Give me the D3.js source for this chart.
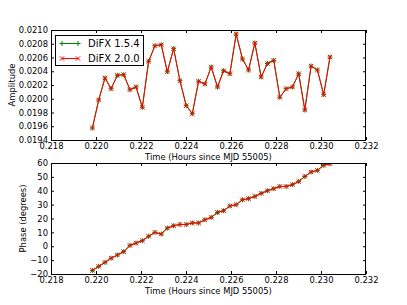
<!DOCTYPE html>
<html>
<head>
<meta charset="utf-8">
<script src="https://cdnjs.cloudflare.com/ajax/libs/d3/7.8.5/d3.min.js"></script>
<style>
  body { margin: 0; background: #fff; }
  svg { display: block; font-family: "DejaVu Sans", sans-serif; }
</style>
</head>
<body>
<div id="chart"></div>
<script>
// time in hours since MJD 55005
var times = [0.21984, 0.22012, 0.22040, 0.22067, 0.22095, 0.22123, 0.22151, 0.22178,
  0.22206, 0.22234, 0.22262, 0.22290, 0.22317, 0.22345, 0.22373, 0.22401, 0.22428,
  0.22456, 0.22484, 0.22512, 0.22540, 0.22567, 0.22595, 0.22623, 0.22651, 0.22678,
  0.22706, 0.22734, 0.22762, 0.22790, 0.22817, 0.22845, 0.22873, 0.22901, 0.22928,
  0.22956, 0.22984, 0.23012, 0.23040];

var ampOld = [0.019575, 0.019982, 0.020302, 0.020146, 0.020341, 0.020350, 0.020132, 0.020171,
  0.019876, 0.020545, 0.020772, 0.020786, 0.020393, 0.020728, 0.020263, 0.019899, 0.019783,
  0.020254, 0.020215, 0.020462, 0.020171, 0.020408, 0.020364, 0.020942, 0.020578, 0.020418,
  0.020811, 0.020316, 0.020513, 0.020559, 0.020021, 0.020146, 0.020171, 0.020364, 0.019836,
  0.020476, 0.020418, 0.020059, 0.020607];
var ampNew = ampOld.slice(); // both versions overlap on the plot

var phaseOld = [-17.4, -14.5, -11.6, -8.6, -6.3, -3.9, 0.6, 2.3, 4.0, 7.2, 10.0, 8.8,
  13.1, 14.8, 15.7, 15.7, 16.8, 16.8, 19.1, 20.8, 24.4, 25.6, 29.0, 30.0, 33.5, 34.3,
  35.9, 38.1, 40.0, 41.5, 43.1, 43.1, 44.4, 46.7, 50.3, 53.5, 54.7, 58.3, 59.5];
var phaseNew = phaseOld.slice();

var xTicks = [0.218, 0.220, 0.222, 0.224, 0.226, 0.228, 0.230, 0.232];
var ampTicks = [0.0194, 0.0196, 0.0198, 0.0200, 0.0202, 0.0204, 0.0206, 0.0208, 0.0210];
var phaseTicks = [-20, -10, 0, 10, 20, 30, 40, 50, 60];
var seriesNames = ["DiFX 1.5.4", "DiFX 2.0.0"];
var seriesColors = ["#008000", "#ff0000"];

var width = 407, height = 305;
var left = 51, right = 366;
var fs = 8.4;

var svg = d3.select("#chart").append("svg")
  .attr("width", width).attr("height", height);

var x = d3.scaleLinear().domain([0.218, 0.232]).range([left, right]);

function marker(g, type, color, px, py) {
  var s = type === "+" ? 2.5 : 2.2;
  var p = type === "+"
    ? "M" + (px - s) + "," + py + "H" + (px + s) + "M" + px + "," + (py - s) + "V" + (py + s)
    : "M" + (px - s) + "," + (py - s) + "L" + (px + s) + "," + (py + s) +
      "M" + (px - s) + "," + (py + s) + "L" + (px + s) + "," + (py - s);
  g.append("path").attr("d", p).attr("stroke", color).attr("stroke-width", 1).attr("fill", "none");
}

function panel(top, bottom, yDomain, yTicks, yFmt, series, ylabel, ylabelX) {
  var y = d3.scaleLinear().domain(yDomain).range([bottom, top]);
  var g = svg.append("g");

  // ticks inside on all sides
  var ax = [
    [d3.axisBottom(x), bottom, true],
    [d3.axisTop(x), top, false]
  ];
  ax.forEach(function (a) {
    var axis = a[0].tickValues(xTicks).tickSizeInner(-3).tickSizeOuter(0).tickPadding(3)
      .tickFormat(a[2] ? d3.format(".3f") : "");
    var gg = g.append("g").attr("transform", "translate(0," + a[1] + ")").call(axis);
    gg.select(".domain").remove();
    gg.selectAll("text").attr("font-size", fs).attr("fill", "#000").attr("font-family", "DejaVu Sans");
  });
  [[d3.axisLeft(y), left, true], [d3.axisRight(y), right, false]].forEach(function (a) {
    var axis = a[0].tickValues(yTicks).tickSizeInner(-3).tickSizeOuter(0).tickPadding(3)
      .tickFormat(a[2] ? yFmt : "");
    var gg = g.append("g").attr("transform", "translate(" + a[1] + ",0)").call(axis);
    gg.select(".domain").remove();
    gg.selectAll("text").attr("font-size", fs).attr("fill", "#000").attr("font-family", "DejaVu Sans");
  });

  var clip = "clip" + top;
  svg.append("clipPath").attr("id", clip).append("rect")
    .attr("x", left).attr("y", top).attr("width", right - left).attr("height", bottom - top);
  var plot = g.append("g").attr("clip-path", "url(#" + clip + ")");

  var line = d3.line().x(function (d) { return x(d[0]); }).y(function (d) { return y(d[1]); });
  series.forEach(function (s, k) {
    var pts = times.map(function (t, i) { return [t, s[i]]; });
    plot.append("path").datum(pts).attr("d", line)
      .attr("fill", "none").attr("stroke", seriesColors[k]).attr("stroke-width", 1);
    pts.forEach(function (p) {
      marker(plot, k === 0 ? "+" : "x", seriesColors[k], x(p[0]), y(p[1]));
    });
  });

  g.append("rect").attr("x", left + 0.5).attr("y", top + 0.5)
    .attr("width", right - left - 1).attr("height", bottom - top)
    .attr("fill", "none").attr("stroke", "#000").attr("stroke-width", 1);

  g.append("text").attr("x", (left + right) / 2).attr("y", bottom + 19.5)
    .attr("text-anchor", "middle").attr("font-size", fs).text("Time (Hours since MJD 55005)");
  g.append("text").attr("transform", "translate(" + ylabelX + "," + ((top + bottom) / 2) + ") rotate(-90)")
    .attr("text-anchor", "middle").attr("font-size", fs).text(ylabel);
  return g;
}

panel(30, 140, [0.0194, 0.0210], ampTicks, d3.format(".4f"), [ampOld, ampNew], "Amplitude", 15);
panel(163, 274, [-20, 60], phaseTicks, d3.format("d"), [phaseOld, phaseNew], "Phase (degrees)", 26);

// legend
var lg = svg.append("g");
lg.append("rect").attr("x", 55.5).attr("y", 35.5).attr("width", 88).attr("height", 30)
  .attr("fill", "#fff").attr("stroke", "#000").attr("stroke-width", 1);
seriesNames.forEach(function (name, k) {
  var ly = 43.5 + k * 15;
  lg.append("line").attr("x1", 62).attr("x2", 78).attr("y1", ly).attr("y2", ly)
    .attr("stroke", seriesColors[k]).attr("stroke-width", 1);
  marker(lg, k === 0 ? "+" : "x", seriesColors[k], 62, ly);
  marker(lg, k === 0 ? "+" : "x", seriesColors[k], 78, ly);
  lg.append("text").attr("x", 88).attr("y", ly + 3.6).attr("font-size", 10).text(name);
});
</script>
</body>
</html>
